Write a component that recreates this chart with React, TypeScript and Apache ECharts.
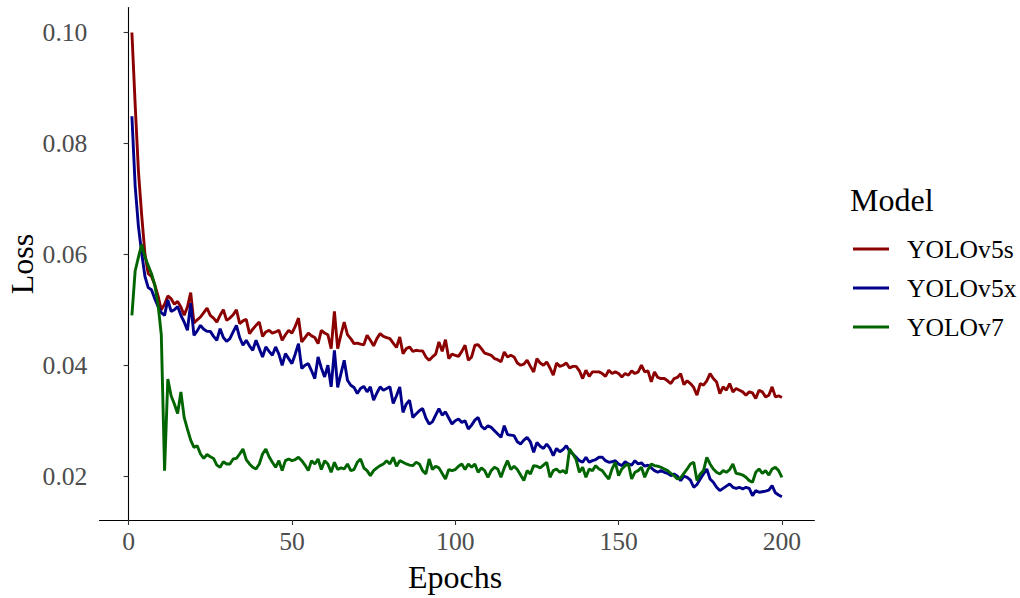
import React, { useEffect, useRef } from "react";
import * as echarts from "echarts";

const epochs: number[] = Array.from({ length: 200 }, (_, i) => i + 1);

const yolov5s: number[] = [
  0.1000, 0.0870, 0.0750, 0.0670, 0.0600, 0.0565, 0.0560, 0.0545, 0.0525, 0.0500,
  0.0510, 0.0525, 0.0520, 0.0510, 0.0515, 0.0505, 0.0490, 0.0505, 0.0531, 0.0476,
  0.0482, 0.0487, 0.0495, 0.0503, 0.0490, 0.0485, 0.0478, 0.0490, 0.0500, 0.0481,
  0.0485, 0.0491, 0.0500, 0.0475, 0.0480, 0.0483, 0.0457, 0.0465, 0.0472, 0.0478,
  0.0452, 0.0460, 0.0463, 0.0458, 0.0460, 0.0463, 0.0445, 0.0455, 0.0463, 0.0458,
  0.0470, 0.0485, 0.0442, 0.0450, 0.0458, 0.0453, 0.0450, 0.0439, 0.0463, 0.0458,
  0.0455, 0.0430, 0.0497, 0.0430, 0.0455, 0.0478, 0.0455, 0.0448, 0.0439, 0.0440,
  0.0438, 0.0437, 0.0454, 0.0445, 0.0435, 0.0448, 0.0457, 0.0452, 0.0450, 0.0448,
  0.0440, 0.0432, 0.0451, 0.0421, 0.0430, 0.0433, 0.0425, 0.0427, 0.0426, 0.0426,
  0.0415, 0.0409, 0.0415, 0.0420, 0.0442, 0.0425, 0.0446, 0.0412, 0.0420, 0.0418,
  0.0416, 0.0425, 0.0436, 0.0409, 0.0415, 0.0436, 0.0437, 0.0430, 0.0422, 0.0420,
  0.0418, 0.0412, 0.0410, 0.0406, 0.0424, 0.0415, 0.0418, 0.0415, 0.0404, 0.0400,
  0.0402, 0.0409, 0.0398, 0.0388, 0.0412, 0.0404, 0.0400, 0.0406, 0.0395, 0.0382,
  0.0404, 0.0398, 0.0400, 0.0404, 0.0395, 0.0398, 0.0398, 0.0390, 0.0376, 0.0391,
  0.0380, 0.0388, 0.0388, 0.0388, 0.0385, 0.0380, 0.0391, 0.0385, 0.0388, 0.0385,
  0.0379, 0.0385, 0.0382, 0.0390, 0.0385, 0.0388, 0.0400, 0.0388, 0.0390, 0.0370,
  0.0388, 0.0378, 0.0376, 0.0376, 0.0372, 0.0367, 0.0376, 0.0378, 0.0385, 0.0365,
  0.0372, 0.0367, 0.0360, 0.0346, 0.0367, 0.0364, 0.0372, 0.0385, 0.0376, 0.0370,
  0.0349, 0.0361, 0.0355, 0.0367, 0.0352, 0.0358, 0.0355, 0.0352, 0.0346, 0.0352,
  0.0350, 0.0340, 0.0355, 0.0352, 0.0343, 0.0346, 0.0361, 0.0343, 0.0345, 0.0342,
];

const yolov5x: number[] = [
  0.0849, 0.0723, 0.0650, 0.0602, 0.0560, 0.0540, 0.0536, 0.0520, 0.0506, 0.0495,
  0.0490, 0.0518, 0.0497, 0.0500, 0.0506, 0.0490, 0.0478, 0.0463, 0.0512, 0.0454,
  0.0462, 0.0472, 0.0465, 0.0461, 0.0461, 0.0452, 0.0445, 0.0466, 0.0450, 0.0443,
  0.0448, 0.0460, 0.0472, 0.0450, 0.0436, 0.0445, 0.0435, 0.0427, 0.0445, 0.0430,
  0.0415, 0.0433, 0.0425, 0.0418, 0.0433, 0.0420, 0.0400, 0.0421, 0.0412, 0.0403,
  0.0420, 0.0439, 0.0394, 0.0400, 0.0403, 0.0390, 0.0376, 0.0415, 0.0395, 0.0379,
  0.0400, 0.0361, 0.0427, 0.0360, 0.0385, 0.0409, 0.0373, 0.0364, 0.0360, 0.0349,
  0.0358, 0.0362, 0.0352, 0.0361, 0.0337, 0.0350, 0.0361, 0.0355, 0.0358, 0.0361,
  0.0331, 0.0345, 0.0361, 0.0315, 0.0330, 0.0337, 0.0306, 0.0312, 0.0318, 0.0322,
  0.0305, 0.0294, 0.0298, 0.0310, 0.0322, 0.0310, 0.0316, 0.0305, 0.0294, 0.0300,
  0.0303, 0.0297, 0.0300, 0.0285, 0.0292, 0.0301, 0.0306, 0.0290, 0.0285, 0.0291,
  0.0288, 0.0282, 0.0276, 0.0270, 0.0291, 0.0275, 0.0274, 0.0273, 0.0262, 0.0258,
  0.0265, 0.0270, 0.0262, 0.0243, 0.0261, 0.0254, 0.0250, 0.0258, 0.0250, 0.0237,
  0.0250, 0.0244, 0.0248, 0.0255, 0.0245, 0.0240, 0.0234, 0.0228, 0.0225, 0.0234,
  0.0225, 0.0228, 0.0230, 0.0234, 0.0234, 0.0228, 0.0225, 0.0226, 0.0228, 0.0222,
  0.0219, 0.0226, 0.0222, 0.0220, 0.0228, 0.0222, 0.0224, 0.0218, 0.0220, 0.0215,
  0.0210, 0.0207, 0.0210, 0.0207, 0.0205, 0.0201, 0.0204, 0.0200, 0.0192, 0.0200,
  0.0198, 0.0193, 0.0180, 0.0185, 0.0195, 0.0204, 0.0213, 0.0195, 0.0189, 0.0180,
  0.0174, 0.0178, 0.0182, 0.0186, 0.0180, 0.0178, 0.0180, 0.0177, 0.0180, 0.0178,
  0.0165, 0.0174, 0.0171, 0.0172, 0.0173, 0.0175, 0.0183, 0.0170, 0.0166, 0.0163,
];

const yolov7: number[] = [
  0.0490, 0.0570, 0.0595, 0.0618, 0.0595, 0.0580, 0.0565, 0.0545, 0.0510, 0.0455,
  0.0210, 0.0375, 0.0345, 0.0330, 0.0313, 0.0352, 0.0306, 0.0285, 0.0265, 0.0252,
  0.0255, 0.0240, 0.0232, 0.0239, 0.0235, 0.0232, 0.0220, 0.0216, 0.0226, 0.0222,
  0.0222, 0.0231, 0.0232, 0.0240, 0.0249, 0.0230, 0.0222, 0.0216, 0.0213, 0.0222,
  0.0240, 0.0249, 0.0235, 0.0225, 0.0216, 0.0228, 0.0210, 0.0228, 0.0231, 0.0228,
  0.0230, 0.0234, 0.0228, 0.0220, 0.0210, 0.0228, 0.0222, 0.0231, 0.0212, 0.0228,
  0.0222, 0.0207, 0.0225, 0.0212, 0.0215, 0.0213, 0.0222, 0.0210, 0.0212, 0.0225,
  0.0231, 0.0215, 0.0210, 0.0201, 0.0210, 0.0215, 0.0219, 0.0222, 0.0228, 0.0222,
  0.0234, 0.0218, 0.0228, 0.0225, 0.0222, 0.0220, 0.0219, 0.0225, 0.0222, 0.0210,
  0.0204, 0.0231, 0.0212, 0.0218, 0.0215, 0.0205, 0.0195, 0.0212, 0.0210, 0.0212,
  0.0218, 0.0222, 0.0212, 0.0222, 0.0216, 0.0222, 0.0207, 0.0215, 0.0210, 0.0198,
  0.0210, 0.0216, 0.0213, 0.0198, 0.0215, 0.0228, 0.0212, 0.0218, 0.0212, 0.0202,
  0.0192, 0.0210, 0.0204, 0.0219, 0.0218, 0.0215, 0.0220, 0.0225, 0.0198, 0.0210,
  0.0213, 0.0207, 0.0210, 0.0205, 0.0249, 0.0240, 0.0230, 0.0207, 0.0216, 0.0198,
  0.0213, 0.0210, 0.0219, 0.0213, 0.0210, 0.0202, 0.0195, 0.0213, 0.0225, 0.0201,
  0.0213, 0.0219, 0.0222, 0.0195, 0.0207, 0.0210, 0.0216, 0.0198, 0.0212, 0.0222,
  0.0219, 0.0218, 0.0216, 0.0213, 0.0210, 0.0205, 0.0201, 0.0195, 0.0197, 0.0205,
  0.0213, 0.0222, 0.0225, 0.0192, 0.0204, 0.0210, 0.0234, 0.0222, 0.0213, 0.0207,
  0.0204, 0.0210, 0.0207, 0.0212, 0.0222, 0.0205, 0.0204, 0.0202, 0.0198, 0.0192,
  0.0189, 0.0207, 0.0213, 0.0205, 0.0210, 0.0202, 0.0213, 0.0216, 0.0210, 0.0198,
];

const seriesNames: string[] = ["YOLOv5s", "YOLOv5x", "YOLOv7"];
const seriesColors: string[] = ["#8B0000", "#00008B", "#006400"];
const xTicks: number[] = [0, 50, 100, 150, 200];
const yTicks: number[] = [0.02, 0.04, 0.06, 0.08, 0.1];

const FONT = "'Liberation Serif', 'Times New Roman', serif";

export default function App() {
  const ref = useRef<HTMLDivElement>(null);

  useEffect(() => {
    if (!ref.current) return;
    const chart = echarts.init(ref.current, null, { renderer: "svg" });
    const allSeries = [yolov5s, yolov5x, yolov7];
    chart.setOption({
      animation: false,
      backgroundColor: "#ffffff",
      grid: { left: 99.4, top: 7.5, width: 715, height: 512.5, containLabel: false },
      xAxis: {
        type: "value",
        min: -8.95,
        max: 209.95,
        splitLine: { show: false },
        axisLine: { show: true, lineStyle: { color: "#000000", width: 1.1 } },
        axisTick: { show: true, length: 5, lineStyle: { color: "#333333", width: 1.1 }, customValues: xTicks },
        axisLabel: {
          customValues: xTicks,
          margin: 8,
          color: "#4D4D4D",
          fontFamily: FONT,
          fontSize: 25.6,
          formatter: (v: number) => String(v),
        },
      },
      yAxis: {
        type: "value",
        min: 0.0121,
        max: 0.1045,
        splitLine: { show: false },
        axisLine: { show: true, lineStyle: { color: "#000000", width: 1.1 } },
        axisTick: { show: true, length: 5, lineStyle: { color: "#333333", width: 1.1 }, customValues: yTicks },
        axisLabel: {
          customValues: yTicks,
          margin: 12,
          color: "#4D4D4D",
          fontFamily: FONT,
          fontSize: 25.6,
          formatter: (v: number) => v.toFixed(2),
        },
      },
      legend: {
        orient: "vertical",
        left: 848,
        top: 231,
        itemGap: 13,
        itemWidth: 36,
        itemHeight: 3,
        icon: "rect",
        data: seriesNames,
        textStyle: {
          fontFamily: FONT,
          fontSize: 25.6,
          color: "#000000",
          padding: [0, 0, 0, 13],
          lineHeight: 26,
        },
      },
      graphic: [
        {
          type: "text",
          left: 850,
          top: 184,
          style: { text: "Model", fontFamily: FONT, fontSize: 32, fill: "#000000" },
        },
        {
          type: "text",
          x: 22,
          y: 264,
          rotation: Math.PI / 2,
          style: {
            text: "Loss",
            fontFamily: FONT,
            fontSize: 32,
            fill: "#000000",
            align: "center",
            verticalAlign: "middle",
          },
        },
        {
          type: "text",
          x: 455,
          y: 577,
          style: {
            text: "Epochs",
            fontFamily: FONT,
            fontSize: 32,
            fill: "#000000",
            align: "center",
            verticalAlign: "middle",
          },
        },
      ],
      series: allSeries.map((vals, si) => ({
        name: seriesNames[si],
        type: "line",
        showSymbol: false,
        symbol: "none",
        data: epochs.map((e, i) => [e, vals[i]]),
        lineStyle: { color: seriesColors[si], width: 2.9 },
        itemStyle: { color: seriesColors[si] },
      })),
    });
    return () => chart.dispose();
  }, []);

  return (
    <div
      ref={ref}
      style={{ position: "absolute", left: 0, top: 0, width: 1020, height: 598 }}
    />
  );
}
